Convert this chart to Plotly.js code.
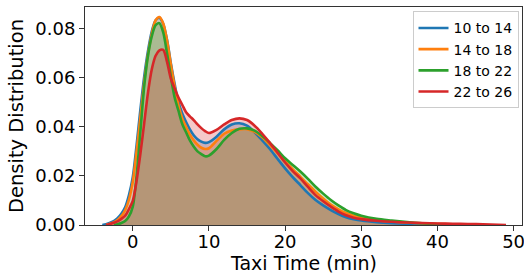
<!DOCTYPE html>
<html>
<head>
<meta charset="utf-8">
<script src="https://cdn.plot.ly/plotly-3.0.1.min.js"></script>
<style>html,body{margin:0;padding:0;background:#fff;}#chart{width:524px;height:278px;}</style>
</head>
<body>
<div id="chart"></div>
<script>
// Taxi time grid (min)
var taxiTime = [-4, -3.5, -3, -2.5, -2, -1.5, -1, -0.5, 0, 0.5, 1, 1.5, 2, 2.5, 3, 3.5, 4, 4.5, 5, 5.5, 6, 6.5, 7, 7.5, 8, 8.5, 9, 9.5, 10, 11, 12, 13, 14, 15, 16, 17, 18, 19, 20, 21, 22, 23, 24, 25, 26, 27, 28, 29, 30, 32, 34, 36, 38, 40, 42, 44, 46, 49];

var seriesNames = ["10 to 14", "14 to 18", "18 to 22", "22 to 26"];

var density10to14 = [0, 0.0003, 0.0009, 0.0016, 0.0028, 0.0046, 0.0072, 0.0122, 0.0195, 0.0325, 0.047, 0.0605, 0.071, 0.079, 0.0835, 0.0845, 0.082, 0.0755, 0.066, 0.0575, 0.050, 0.0455, 0.042, 0.039, 0.0366, 0.035, 0.034, 0.0335, 0.0338, 0.036, 0.039, 0.041, 0.0415, 0.0405, 0.0378, 0.0345, 0.031, 0.027, 0.0231, 0.0195, 0.0163, 0.013, 0.0102, 0.008, 0.0061, 0.0045, 0.0032, 0.0024, 0.0018, 0.0011, 0.0007, 0.0005, 0.0004, 0.0003, 0.0001, 0, null, null];

var density14to18 = [null, 0, 0.0005, 0.0011, 0.002, 0.0036, 0.006, 0.0103, 0.0175, 0.030, 0.044, 0.058, 0.0695, 0.078, 0.0835, 0.0848, 0.0822, 0.0752, 0.0655, 0.0565, 0.0488, 0.0435, 0.040, 0.0368, 0.0345, 0.0327, 0.0315, 0.031, 0.0313, 0.0343, 0.0372, 0.0385, 0.039, 0.0391, 0.038, 0.0358, 0.0327, 0.0293, 0.026, 0.0228, 0.0197, 0.0166, 0.0136, 0.0108, 0.0083, 0.0064, 0.0049, 0.0038, 0.003, 0.002, 0.0014, 0.001, 0.0007, 0.0005, 0.0003, 0.0001, 0, null];

var density18to22 = [null, null, null, 0, 0.0003, 0.0008, 0.0016, 0.0035, 0.0075, 0.020, 0.038, 0.0565, 0.069, 0.077, 0.0815, 0.0823, 0.0785, 0.070, 0.0605, 0.052, 0.0466, 0.0412, 0.0378, 0.0345, 0.032, 0.030, 0.0289, 0.028, 0.0283, 0.031, 0.0347, 0.0375, 0.0392, 0.0394, 0.0385, 0.0363, 0.0335, 0.0305, 0.0272, 0.0245, 0.0218, 0.0188, 0.0156, 0.0128, 0.0102, 0.008, 0.0061, 0.0048, 0.0038, 0.0025, 0.0018, 0.0012, 0.0007, 0.0003, 0, null, null, null];

var density22to26 = [null, 0, 0.0004, 0.0009, 0.0015, 0.0025, 0.0038, 0.0065, 0.0098, 0.018, 0.029, 0.0415, 0.054, 0.0635, 0.069, 0.0712, 0.0714, 0.0665, 0.0597, 0.0557, 0.052, 0.049, 0.046, 0.0443, 0.0428, 0.041, 0.0395, 0.0383, 0.0375, 0.0388, 0.041, 0.0428, 0.0435, 0.0428, 0.0405, 0.0372, 0.0335, 0.0295, 0.0255, 0.022, 0.019, 0.0155, 0.0122, 0.0097, 0.0075, 0.0055, 0.004, 0.003, 0.0024, 0.0017, 0.0013, 0.001, 0.0008, 0.0006, 0.0005, 0.0004, 0.0003, 0];

var xTicks = [0, 10, 20, 30, 40, 50];
var yTicks = [0, 0.02, 0.04, 0.06, 0.08];

var lineColors = ["#1f77b4", "#ff7f0e", "#2ca02c", "#d62728"];
var fillColors = ["rgba(31,119,180,0.25)", "rgba(255,127,14,0.25)", "rgba(44,160,44,0.25)", "rgba(214,39,40,0.25)"];
var allDensities = [density10to14, density14to18, density18to22, density22to26];

var traces = [];
for (var i = 0; i < 4; i++) {
  traces.push({
    x: taxiTime, y: allDensities[i], type: "scatter", mode: "lines",
    fill: "tozeroy", fillcolor: fillColors[i],
    line: {width: 0, shape: "spline", smoothing: 0.8, color: lineColors[i]},
    showlegend: false, hoverinfo: "skip"
  });
}
for (var j = 0; j < 4; j++) {
  traces.push({
    x: taxiTime, y: allDensities[j], type: "scatter", mode: "lines",
    name: seriesNames[j],
    line: {width: 2.6, shape: "spline", smoothing: 0.8, color: lineColors[j]}
  });
}

var layout = {
  width: 524, height: 278,
  margin: {l: 85, r: 2, t: 7, b: 53},
  paper_bgcolor: "#fff", plot_bgcolor: "#fff",
  font: {family: "DejaVu Sans", color: "#000", size: 18},
  xaxis: {
    range: [-6.27, 51.1], tickvals: xTicks, ticktext: xTicks.map(String),
    showgrid: false, zeroline: false, showline: true, mirror: true,
    linecolor: "#333", linewidth: 1, ticks: "outside", ticklen: 5, tickwidth: 1, tickcolor: "#333",
    ticklabeloverflow: "allow", ticklabelstandoff: -5,
    tickfont: {size: 18}
  },
  yaxis: {
    range: [0, 0.0889], tickvals: yTicks, ticktext: yTicks.map(function(v){return v.toFixed(2);}),
    showgrid: false, zeroline: false, showline: true, mirror: true,
    linecolor: "#333", linewidth: 1, ticks: "outside", ticklen: 5, tickwidth: 1, tickcolor: "#333",
    ticklabeloverflow: "allow",
    tickfont: {size: 18}, title: {text: "Density Distribution", font: {size: 19.5}, standoff: 6}
  },
  annotations: [{
    text: "Taxi Time (min)", xref: "paper", yref: "paper", x: 0.5, y: -0.175,
    xanchor: "center", yanchor: "middle", showarrow: false, font: {size: 19}
  }],
  legend: {
    x: 0.992, xanchor: "right", y: 0.98, yanchor: "top",
    bgcolor: "rgba(255,255,255,0.8)", bordercolor: "#cccccc", borderwidth: 1,
    font: {size: 14}, itemwidth: 30, tracegroupgap: 0
  },
  showlegend: true
};

Plotly.newPlot("chart", traces, layout, {staticPlot: true, displayModeBar: false});
</script>
</body>
</html>
